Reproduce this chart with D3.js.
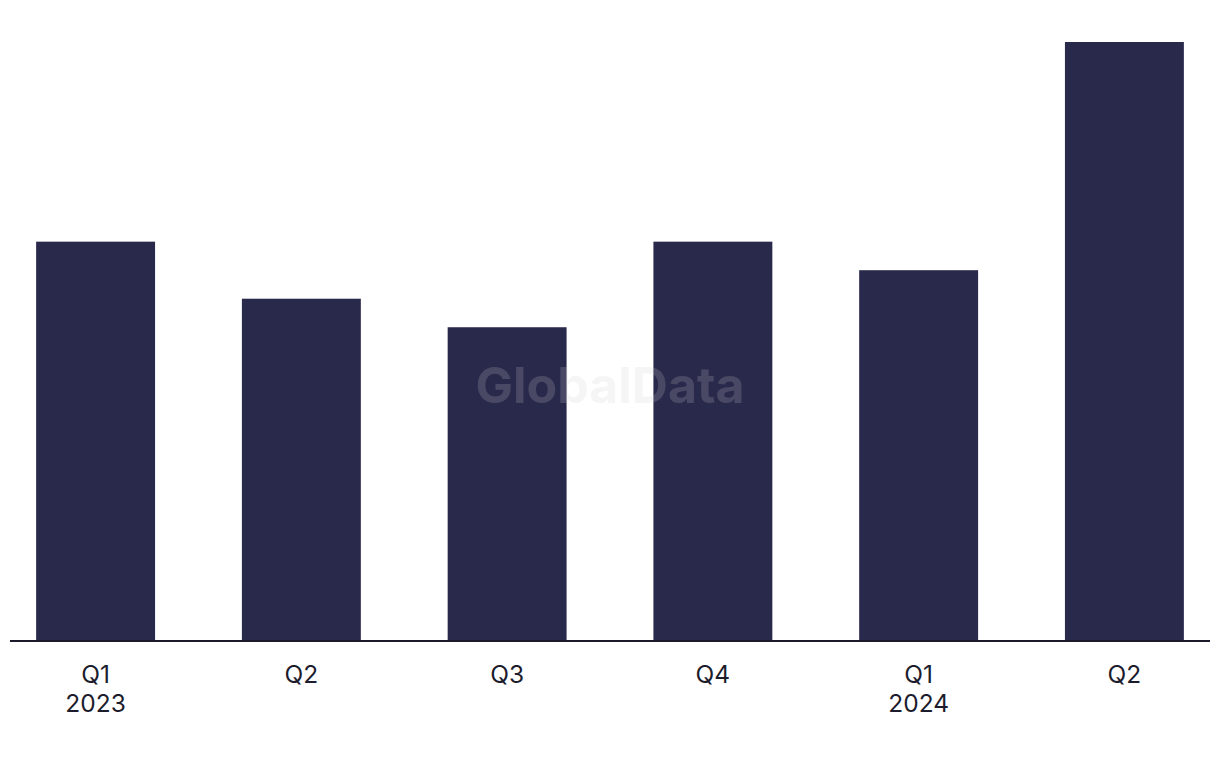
<!doctype html>
<html>
<head>
<meta charset="utf-8">
<title>Quarterly bars</title>
<script src="https://cdn.jsdelivr.net/npm/d3@7"></script>
<style>
  body { margin: 0; background: #fff; }
  .tick-label { font: 24.5px Inter, "Liberation Sans", Arial, sans-serif; fill: #1c1c2c; text-anchor: middle; }
  .watermark { font: bold 50px Inter, "Liberation Sans", Arial, sans-serif; fill: #cdcdcd; fill-opacity: 0.2; text-anchor: middle; }
</style>
</head>
<body>
<svg id="chart" width="1220" height="768"></svg>
<script>
  // quarters and the year shown under the first quarter of each year
  var quarters = ["Q1", "Q2", "Q3", "Q4", "Q1", "Q2"];
  var years = ["2023", "", "", "", "2024", ""];
  var values = [14, 12, 11, 14, 13, 21];

  var svg = d3.select("#chart");
  var keys = quarters.map(function(q, i) { return i; });

  var x = d3.scaleBand()
      .domain(keys)
      .range([10, 1210])
      .paddingInner(0.422)
      .paddingOuter(0.127);

  var y = d3.scaleLinear()
      .domain([0, 21])
      .range([641, 42]);

  svg.selectAll("rect.bar")
    .data(values)
    .enter().append("rect")
      .attr("class", "bar")
      .attr("x", function(d, i) { return x(i); })
      .attr("width", x.bandwidth())
      .attr("y", function(d) { return y(d); })
      .attr("height", function(d) { return y(0) - y(d); })
      .attr("fill", "#29294b");

  // baseline
  svg.append("line")
      .attr("x1", 10).attr("x2", 1210)
      .attr("y1", y(0)).attr("y2", y(0))
      .attr("stroke", "#1a1a2a")
      .attr("stroke-width", 2);

  var labels = svg.selectAll("g.lab")
    .data(keys)
    .enter().append("g")
      .attr("class", "lab")
      .attr("transform", function(i) { return "translate(" + (x(i) + x.bandwidth() / 2) + ",0)"; });

  labels.append("text")
      .attr("class", "tick-label")
      .attr("y", 683)
      .text(function(i) { return quarters[i]; });

  labels.append("text")
      .attr("class", "tick-label")
      .attr("y", 712)
      .text(function(i) { return years[i]; });

  svg.append("text")
      .attr("class", "watermark")
      .attr("x", 610)
      .attr("y", 403)
      .text("GlobalData");
</script>
</body>
</html>
